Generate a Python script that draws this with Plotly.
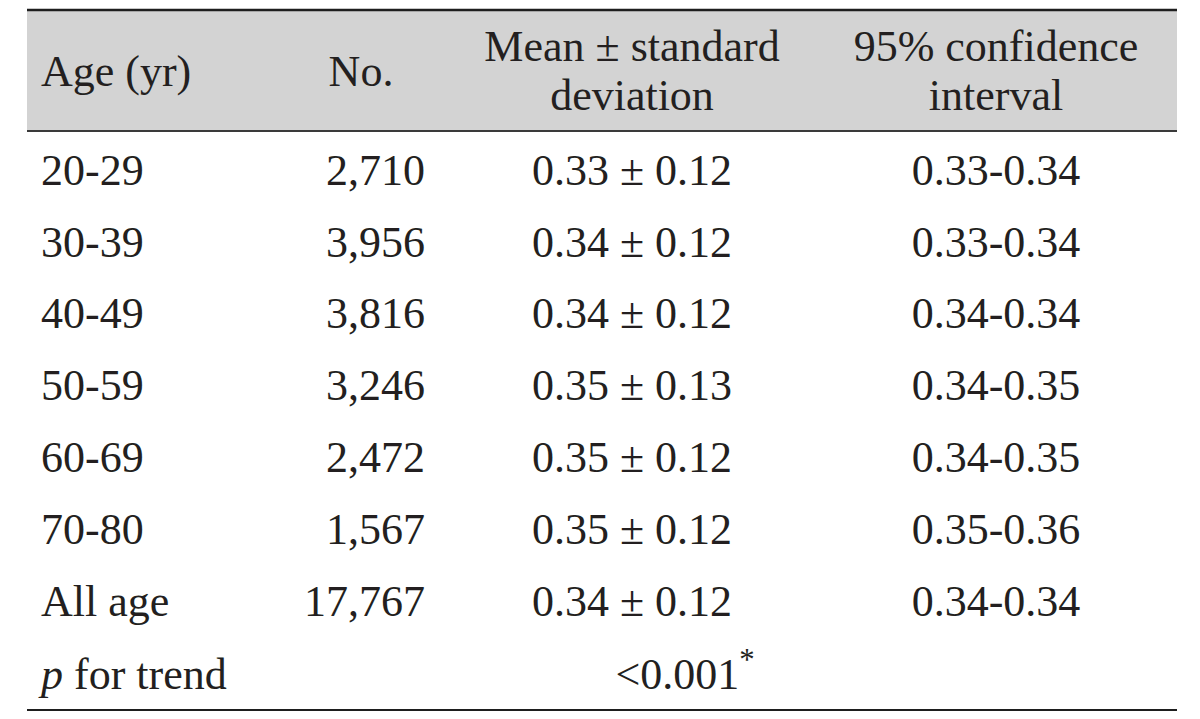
import plotly.graph_objects as go

# table content
header = ['Age (yr)', 'No.', 'Mean ± standard\ndeviation', '95% confidence\ninterval']
age_groups = ['20-29', '30-39', '40-49', '50-59', '60-69', '70-80', 'All age']
counts = ['2,710', '3,956', '3,816', '3,246', '2,472', '1,567', '17,767']
mean_sd = ['0.33 ± 0.12', '0.34 ± 0.12', '0.34 ± 0.12', '0.35 ± 0.13',
           '0.35 ± 0.12', '0.35 ± 0.12', '0.34 ± 0.12']
ci95 = ['0.33-0.34', '0.33-0.34', '0.34-0.34', '0.34-0.35',
        '0.34-0.35', '0.35-0.36', '0.34-0.34']
trend_label = '<i>p</i> for trend'
trend_value = '&lt;0.001<sup>*</sup>'

# layout in page pixel units; the html body has an 8px margin
PAD = 8
W, H = 1200, 719
LEFT, RIGHT = 27, 1177
TOP, HEAD_BOT, BOTTOM = 10, 131, 710
FS = 44
MID = 0.35 * FS          # baseline -> middle anchor offset
ROW0, STEP = 189, 71.9   # baseline of first body row, row pitch
TXT = '#231f20'
FONT = 'Liberation Serif, Times New Roman, serif'

col_x = [41, 425, 632, 996]
head_x = [41, 361, 632, 996]
col_pos = ['middle right', 'middle left', 'middle center', 'middle center']
head_pos = ['middle right', 'middle center', 'middle center', 'middle center']

body = [age_groups, counts, mean_sd, ci95]
n_body = len(age_groups)
row_y = [ROW0 + STEP * i - MID for i in range(n_body + 1)]

fig = go.Figure()

for j, col in enumerate(body):
    fig.add_trace(go.Scatter(
        x=[col_x[j]] * n_body, y=row_y[:n_body], text=col, mode='text',
        textposition=col_pos[j],
        textfont=dict(family=FONT, size=FS, color=TXT),
        hoverinfo='skip', showlegend=False,
    ))

# last row: p for trend, value spans the middle columns
fig.add_trace(go.Scatter(
    x=[col_x[0], col_x[2] + 53], y=[row_y[-1] + 1] * 2,
    text=[trend_label, trend_value], mode='text',
    textposition=['middle right', 'middle center'],
    textfont=dict(family=FONT, size=FS, color=TXT),
    hoverinfo='skip', showlegend=False,
))

# header: single-line labels centred, two-line labels split
for j, label in enumerate(header):
    parts = label.split('\n')
    if len(parts) == 1:
        ys = [90 - MID]
    else:
        ys = [65 - MID, 114 - MID]
    fig.add_trace(go.Scatter(
        x=[head_x[j]] * len(parts), y=ys, text=parts, mode='text',
        textposition=head_pos[j],
        textfont=dict(family=FONT, size=FS, color=TXT),
        hoverinfo='skip', showlegend=False,
    ))

fig.update_layout(
    width=W - PAD, height=H - PAD,
    margin=dict(l=0, r=0, t=0, b=0),
    paper_bgcolor='white', plot_bgcolor='white',
    xaxis=dict(range=[PAD, W], visible=False, fixedrange=True),
    yaxis=dict(range=[H, PAD], visible=False, fixedrange=True),
    shapes=[
        dict(type='rect', xref='x', yref='y', x0=LEFT, x1=RIGHT, y0=TOP, y1=HEAD_BOT,
             fillcolor='#d3d3d3', line=dict(width=0), layer='below'),
        dict(type='line', xref='x', yref='y', x0=LEFT, x1=RIGHT, y0=TOP, y1=TOP,
             line=dict(color='#1e1e1e', width=2.5)),
        dict(type='line', xref='x', yref='y', x0=LEFT, x1=RIGHT, y0=HEAD_BOT, y1=HEAD_BOT,
             line=dict(color='#3a3a3a', width=2)),
        dict(type='line', xref='x', yref='y', x0=LEFT, x1=RIGHT, y0=BOTTOM, y1=BOTTOM,
             line=dict(color='#1e1e1e', width=2)),
    ],
)

fig.write_html('out.html')
